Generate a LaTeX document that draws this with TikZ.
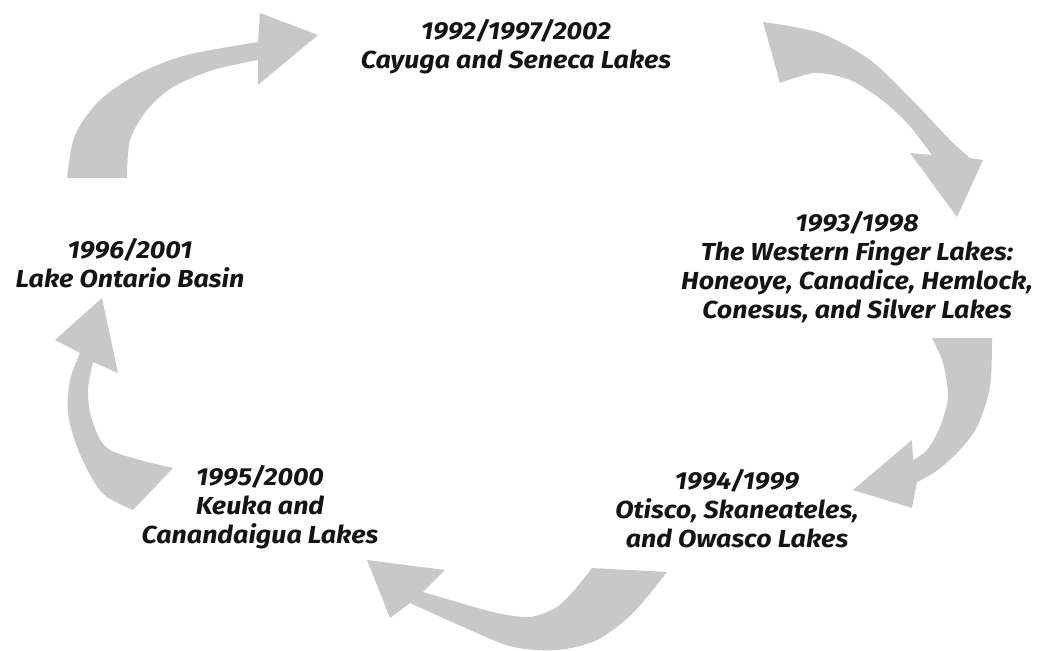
\documentclass[tikz,border=0pt]{standalone}
\usepackage{fontspec}
\setmainfont{Fira Sans}[FakeStretch=1.09]
\usepackage{tikz}
\usepackage{xcolor}
\usetikzlibrary{positioning,calc}
\definecolor{cycleGray}{RGB}{200,200,200}
\definecolor{cycleText}{RGB}{20,20,20}
\tikzset{
    lakeLabel/.style={
        align=center,
        inner sep=2pt,
        text=cycleText,
        font=\fontsize{14}{16.5}\selectfont\bfseries\itshape
    },
    % block arrows of the cycle
    cycleArrow/.style={fill=cycleGray, draw=none}
}
\begin{document}
\begin{tikzpicture}[x=0.02cm, y=-0.02cm]
    \useasboundingbox (0,0) rectangle (1039,651);

    \node[lakeLabel] (cayuga) at (516,47) {1992/1997/2002\\Cayuga and Seneca Lakes};
    \node[lakeLabel] (western) at (857,267) {1993/1998\\The Western Finger Lakes:\\Honeoye, Canadice, Hemlock,\\Conesus, and Silver Lakes};
    \node[lakeLabel] (otisco) at (737,509) {1994/1999\\Otisco, Skaneateles,\\and Owasco Lakes};
    \node[lakeLabel] (keuka) at (260,507) {1995/2000\\Keuka and\\Canandaigua Lakes};
    \node[lakeLabel] (ontario) at (130,263) {1996/2001\\Lake Ontario Basin};

    % ontario -> cayuga
    \fill[cycleArrow] plot[smooth] coordinates {(67,178) (75,135) (100,100) (140,73) (187,55) (258,42)}
        -- (260,13) -- (318,35) -- (258,85)
        -- plot[smooth] coordinates {(258,60) (213,70) (173,87) (147,110) (130,140) (127,178)} -- cycle;
    % cayuga -> western
    \fill[cycleArrow] plot[smooth] coordinates {(763,22) (820,33) (870,60) (915,103) (950,140) (970,158)}
        -- (983,160) -- (957,217) -- (910,153)
        -- plot[smooth] coordinates {(932,155) (908,124) (882,100) (850,80) (815,73) (780,83)} -- cycle;
    % western -> otisco
    \fill[cycleArrow] plot[smooth] coordinates {(992,338) (990,387) (977,427) (957,453) (935,472) (917,482)}
        -- (912,508) -- (853,490) -- (912,440)
        -- plot[smooth] coordinates {(913,460) (927,450) (940,427) (948,397) (943,363) (932,338)} -- cycle;
    % otisco -> keuka
    \fill[cycleArrow] plot[smooth] coordinates {(667,572) (633,613) (597,640) (557,650) (513,647) (470,630) (410,603)}
        -- (390,618) -- (367,560) -- (445,570)
        -- plot[smooth] coordinates {(423,592) (457,602) (497,613) (530,617) (557,607) (577,587) (592,568)} -- cycle;
    % keuka -> ontario
    \fill[cycleArrow] plot[smooth] coordinates {(133,510) (107,497) (93,480) (77,447) (68,413) (70,380) (80,353)}
        -- (55,340) -- (102,298) -- (118,373)
        -- plot[smooth] coordinates {(93,362) (88,390) (92,420) (110,450) (173,468)} -- cycle;
\end{tikzpicture}
\end{document}
